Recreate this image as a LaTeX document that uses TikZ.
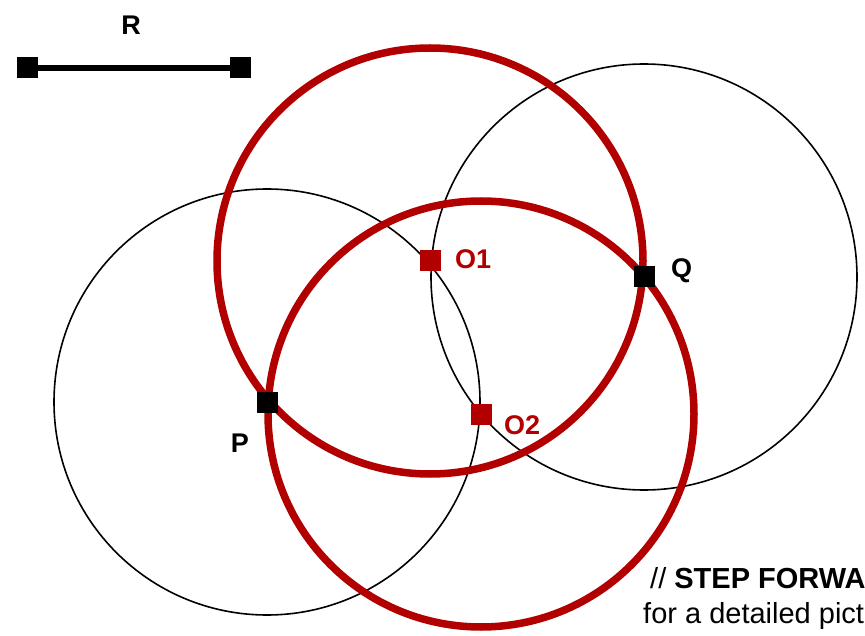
\documentclass[tikz,border=0pt]{standalone}
\usepackage{fontspec}
\setmainfont{Liberation Sans}
\definecolor{dred}{RGB}{178,0,0}
\begin{document}
\begin{tikzpicture}[x=1pt,y=-1pt,
  thincircle/.style={draw=black,line width=1.6pt},
  redcircle/.style={draw=dred,line width=7.5pt},
  blacksq/.style={fill=black,minimum size=21pt,inner sep=0pt,outer sep=0pt},
  redsq/.style={fill=dred,minimum size=21pt,inner sep=0pt,outer sep=0pt},
  lbl/.style={font=\fontsize{27}{30}\selectfont\bfseries,inner sep=0pt},
  redlbl/.style={lbl,text=dred},
  txt/.style={font=\fontsize{29}{32}\selectfont,inner sep=0pt,anchor=base west}]
\useasboundingbox (0,0) rectangle (865,636);
% centres
\coordinate (cP) at (267,402);
\coordinate (cQ) at (644,277);
\coordinate (cO1) at (430,261);
\coordinate (cO2) at (481,414);
% circles
\draw[thincircle] (cP) circle[radius=213];
\draw[thincircle] (cQ) circle[radius=213];
\draw[redcircle] (cO1) circle[radius=213];
\draw[redcircle] (cO2) circle[radius=213];
% radius segment
\node[blacksq] (ra) at (27,68) {};
\node[blacksq] (rb) at (240,68) {};
\draw[line width=6.5pt] (ra.center) -- (rb.center);
\node[lbl] (rl) at (131,25) {R};
% points
\node[blacksq] (P) at (cP) {};
\node[blacksq] (Q) at (cQ) {};
\node[redsq] (O1) at (cO1) {};
\node[redsq] (O2) at (cO2) {};
\node[lbl] (pl) at (240,443) {P};
\node[lbl,anchor=west] (ql) at (671,271) {Q};
\node[redlbl,anchor=west] (o1l) at (455,259) {O1};
\node[redlbl,anchor=west] (o2l) at (504,425) {O2};
% text
\node[txt] (t1) at (650,588) {// \textbf{STEP FORWA}};
\node[txt] (t2) at (643,623) {for a detailed pict};
\end{tikzpicture}
\end{document}
